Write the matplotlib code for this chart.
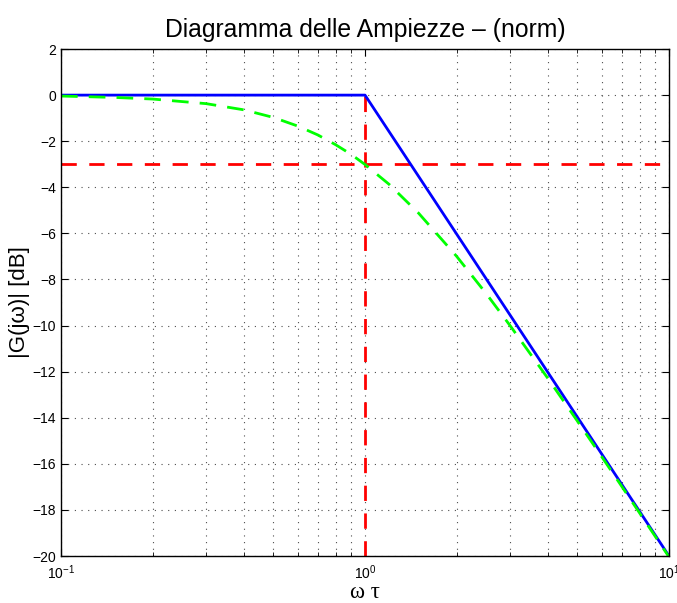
import numpy as np
import matplotlib
matplotlib.use("Agg")
import matplotlib.pyplot as plt

plt.rcParams['font.family'] = ['Liberation Sans', 'DejaVu Sans']
plt.rcParams['mathtext.default'] = 'regular'
plt.rcParams['font.size'] = 10

# asymptotic magnitude (blue)
w_asym = [0.1, 1.0, 10.0]
g_asym = [0.0, 0.0, -20.0]

# real magnitude of first order system (green)
w_real = [0.1, 0.15, 0.2, 0.3, 0.4, 0.5, 0.6, 0.7, 0.8, 0.9, 1.0, 1.2, 1.5,
          2.0, 2.5, 3.0, 4.0, 5.0, 6.0, 7.0, 8.0, 9.0, 10.0]
g_real = [-0.04, -0.10, -0.17, -0.37, -0.64, -0.97, -1.34, -1.73, -2.15, -2.57,
          -3.01, -3.87, -5.12, -6.99, -8.60, -10.0, -12.30, -14.15, -15.68,
          -16.99, -18.13, -19.14, -20.04]

# -3 dB level and cutoff frequency (red)
w_cut = [1.0, 1.0]
g_cut = [-20.0, 0.0]
w_3db = [0.1, 10.0]
g_3db = [-3.0, -3.0]

fig = plt.figure(figsize=(6.77, 6.03), dpi=100)
ax = fig.add_axes([0.0901, 0.0779, 0.8981, 0.8408])

l1, = ax.plot(w_3db, g_3db, color='red', lw=2)
l2, = ax.plot(w_cut, g_cut, color='red', lw=2)
for l in (l1, l2):
    l.set_dashes((5.5, 4.5))
ax.plot(w_asym, g_asym, color='blue', lw=2)
l3, = ax.plot(w_real, g_real, color='#00ff00', lw=2)
l3.set_dashes((6, 4))

ax.set_xscale('log')
ax.set_xlim(0.1, 10)
ax.set_ylim(-20, 2)
ax.set_yticks(np.arange(-20, 3, 2))

dots = (0, (1, 5))
ax.grid(True, which='major', axis='both', linestyle=dots, color='0.3', lw=0.8)
ax.grid(True, which='minor', axis='x', linestyle=dots, color='0.3', lw=0.8)
ax.tick_params(which='both', direction='in', top=True, right=True)
ax.tick_params(which='major', length=5)
ax.tick_params(which='minor', length=3)
ax.tick_params(axis='x', pad=5)
for s in ax.spines.values():
    s.set_linewidth(1.0)

ax.set_title('Diagramma delle Ampiezze \u2013 (norm)', fontsize=17.8, pad=9)
ax.set_ylabel('|G(j\u03c9)| [dB]', fontsize=16, labelpad=2)
ax.set_xlabel('\u03c9 \u03c4', fontsize=16.5, family=['Liberation Serif', 'DejaVu Serif'])
ax.xaxis.label.set_va('center')
ax.xaxis.set_label_coords(0.5, -0.072)

fig.savefig('out.png', dpi=100)
